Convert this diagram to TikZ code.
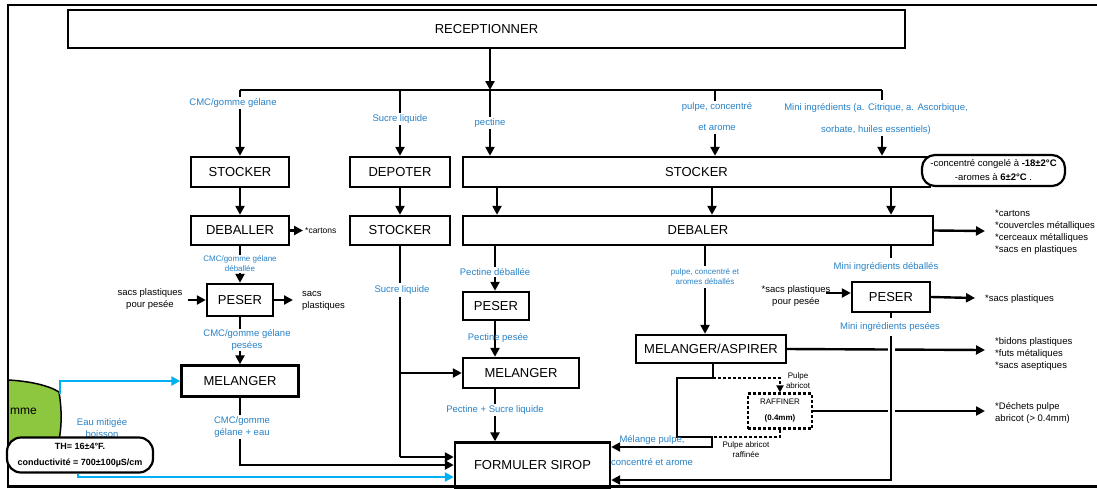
\documentclass[tikz,border=0pt]{standalone}
\usepackage{fontspec}
\setmainfont{Liberation Sans}
\usetikzlibrary{arrows.meta}
\definecolor{lblue}{RGB}{40,130,200}
\definecolor{cyanl}{RGB}{0,176,240}
\definecolor{greenf}{RGB}{141,198,63}
\tikzset{
 ln/.style={line width=2.4pt},
 arr/.style={line width=2.4pt,-{Triangle[length=9pt,width=9pt]}},
 barr/.style={line width=2.4pt,draw=cyanl,-{Triangle[length=9pt,width=9pt]}},
 dsh/.style={line width=2.2pt,dash pattern=on 3pt off 2pt},
 box/.style={draw,line width=2.4pt,fill=white,inner sep=0,font=\fontsize{13}{15}\selectfont},
 lbl/.style={text=lblue,inner sep=0,align=center,font=\fontsize{9.5}{12}\selectfont},
 slbl/.style={text=lblue,inner sep=0,align=center,font=\fontsize{8}{10}\selectfont},
 txt/.style={inner sep=0,align=left,font=\fontsize{9.5}{12}\selectfont},
 stxt/.style={inner sep=0,align=center,font=\fontsize{8}{10}\selectfont},
 notebox/.style={draw,line width=2.2pt,fill=white,rounded corners=13pt,inner sep=0,align=center},
}
\begin{document}
\begin{tikzpicture}[x=1pt,y=-1pt]
\useasboundingbox (0,0) rectangle (1097,488);
\clip (0,0) rectangle (1097,488);
\fill[white] (0,0) rectangle (1097,488);

% green shape (partly hidden)
\fill[greenf] (8,380) .. controls (28,381) and (48,385) .. (59,392) .. controls (62,410) and (62,428) .. (58,445) -- (8,445) -- cycle;
\draw[line width=1.5pt] (8,380) .. controls (28,381) and (48,385) .. (59,392) .. controls (62,410) and (62,428) .. (58,445);
\node[font=\fontsize{12}{14}\selectfont,anchor=west,inner sep=0] (gm) at (10,411) {mme};

% frame
\draw[line width=2pt] (8,4.5) -- (1097,4.5);
\draw[line width=1.5pt] (8,4) -- (8,488);

% boxes
\node[box,minimum width=837,minimum height=38] (rec) at (486.5,29) {RECEPTIONNER};
\node[box,minimum width=98,minimum height=30] (stc) at (240,172) {STOCKER};
\node[box,minimum width=100,minimum height=30] (dep) at (400,172) {DEPOTER};
\node[box,minimum width=467,minimum height=30] (stb) at (696.5,172) {STOCKER};
\node[box,minimum width=98,minimum height=29] (deb1) at (240,230.5) {DEBALLER};
\node[box,minimum width=100,minimum height=29] (sts) at (400,230.5) {STOCKER};
\node[box,minimum width=470,minimum height=29] (deb2) at (698,230.5) {DEBALER};
\node[box,minimum width=66,minimum height=32] (pes1) at (240,300) {PESER};
\node[box,minimum width=66,minimum height=28] (pes2) at (496,306) {PESER};
\node[box,minimum width=78,minimum height=30] (pes3) at (891,297) {PESER};
\node[box,minimum width=117,minimum height=31] (mel1) at (240,381) {MELANGER};
\node[box,minimum width=116,minimum height=30] (mel2) at (521,373) {MELANGER};
\node[box,minimum width=150,minimum height=28] (mas) at (711,349) {MELANGER/ASPIRER};
\node[box,dsh,minimum width=64,minimum height=35,align=center,font=\fontsize{8}{16}\selectfont] (raf) at (780,411) {RAFFINER\\\textbf{(0.4mm)}};
\node[box,minimum width=155,minimum height=45] (form) at (532.5,465) {FORMULER SIROP};

% distribution from RECEPTIONNER
\coordinate (dl) at (240,90);
\coordinate (dr) at (882,90);
\draw[arr] (490,0 |- rec.south) -- (490,90);
\draw[ln] (dl) -- (dr);
\draw[arr] (dl) -- (stc.north);
\node[lbl,fill=white,inner sep=1.5pt] (lcmc) at (233,103) {CMC/gomme gélane};
\draw[arr] (400,90) -- (dep.north);
\node[lbl,fill=white,inner sep=2pt] (lsuc) at (400,119) {Sucre liquide};
\draw[arr] (490,90) -- (490,0 |- stb.north);
\node[lbl,fill=white,inner sep=2pt] (lpec) at (490,123) {pectine};
\draw[ln] (715,90) -- (715,101);
\node[lbl] (lpul1) at (717,107) {pulpe, concentré};
\node[lbl] (lpul2) at (717,127) {et arome};
\draw[arr] (715,134) -- (715,0 |- stb.north);
\draw[ln] (882,90) -- (882,100);
\node[lbl] (lmin1) at (876,108) {Mini ingrédients (a. Citrique, a. Ascorbique,};
\node[lbl] (lmin2) at (876,130) {sorbate, huiles essentiels)};
\draw[arr] (882,136) -- (882,0 |- stb.north);
\node[notebox,minimum width=143,minimum height=31,font=\fontsize{9.5}{14}\selectfont] (note) at (993.5,170.5) {-concentré congelé à \textbf{-18±2°C}\\-aromes à \textbf{6±2°C} .};

% row 2 -> row 3
\draw[arr] (stc) -- (deb1);
\draw[arr] (dep) -- (sts);
\draw[arr] (497,0 |- stb.south) -- (497,0 |- deb2.north);
\draw[arr] (712,0 |- stb.south) -- (712,0 |- deb2.north);
\draw[arr] (891,0 |- stb.south) -- (891,0 |- deb2.north);

\draw[arr] (deb1.east) -- (303,230.5);
\node[txt,anchor=west,font=\fontsize{8.5}{10}\selectfont] (cart) at (305,231) {*cartons};
\draw[arr] (deb2.east) -- (985,231);
\node[txt,anchor=west] (t1) at (995,232) {*cartons\\*couvercles métalliques\\*cerceaux métalliques\\*sacs en plastiques};

% CMC chain
\draw[arr] (deb1) -- (pes1);
\node[slbl,fill=white,inner sep=1pt] (lcmc2) at (240,264) {CMC/gomme gélane\\déballée};
\node[txt,align=center] (sp1) at (150,299) {sacs plastiques\\pour pesée};
\draw[arr] (188,300) -- (pes1.west);
\draw[arr] (pes1.east) -- (293,300);
\node[txt,anchor=west] (sp2) at (302,301) {sacs\\plastiques};
\draw[arr] (pes1) -- (mel1);
\node[lbl,fill=white,inner sep=1pt] (lcmc3) at (247,340) {CMC/gomme gélane\\pesées};
\draw[arr] (mel1.south) -- (240,465) -- (form.west |- 240,465);
\node[lbl,fill=white,inner sep=1.5pt] (lcmc4) at (242,427) {CMC/gomme\\gélane + eau};

% water
\draw[barr] (60,394) -- (60,381) -- (mel1.west);
\node[lbl] (eau) at (102,428) {Eau mitigée\\boisson};
\node[notebox,rounded corners=14pt,minimum width=146,minimum height=35,font=\bfseries\fontsize{9}{16}\selectfont] (th) at (80,455) {TH= 16±4°F.\\conductivité = 700±100µS/cm};
\draw[barr] (78,0 |- th.south) -- (78,477) -- (form.west |- 78,477);

% sucre chain
\draw[ln] (sts.south) -- (400,457);
\draw[arr] (400,457) -- (form.west |- 400,457);
\draw[arr] (400,373) -- (mel2.west);
\node[lbl,fill=white,inner sep=3pt] (lsuc2) at (402,290) {Sucre liquide};

% pectine chain
\draw[arr] (495,0 |- deb2.south) -- (495,0 |- pes2.north);
\node[lbl,fill=white,inner sep=1.5pt] (lpec2) at (495,272) {Pectine déballée};
\draw[arr] (495,0 |- pes2.south) -- (495,0 |- mel2.north);
\node[lbl] (lpec3) at (498,338) {Pectine pesée};
\draw[arr] (495,0 |- mel2.south) -- (495,0 |- form.north);
\node[lbl,fill=white,inner sep=2pt] (lpec4) at (495,410) {Pectine + Sucre liquide};

% pulpe chain
\draw[arr] (705,0 |- deb2.south) -- (705,0 |- mas.north);
\node[slbl,fill=white,inner sep=3pt] (lpul3) at (705,277) {pulpe, concentré et\\aromes déballés};
\draw[arr] (mas.east) -- (985,350);
\node[txt,anchor=west] (t2) at (995,354) {*bidons plastiques\\*futs métaliques\\*sacs aseptiques};
\draw[arr] (713,0 |- mas.south) -- (713,378) -- (677,378) -- (677,437) -- (712,437) -- (712,447) -- (form.east |- 712,447);
\node[lbl] (lmel1) at (652,440) {Mélange pulpe,};
\node[lbl] (lmel2) at (652,462) {concentré et arome};
\draw[dsh,-{Triangle[length=7pt,width=7pt]}] (713,378) -- (780,378) -- (raf.north);
\node[stxt] (lpa) at (798,381) {Pulpe\\abricot};
\draw[arr] (raf.east) -- (985,411);
\node[txt,anchor=west] (t3) at (995,413) {*Déchets pulpe\\abricot (> 0.4mm)};
\draw[dsh] (raf.south) -- (780,437) -- (712,437);
\node[stxt] (lpar) at (746,450) {Pulpe abricot\\raffinée};

% mini chain
\draw[ln] (891,0 |- deb2.south) -- (891,258);
\node[lbl] (lmin3) at (886,267) {Mini ingrédients déballés};
\node[txt,align=center] (sp3) at (796,296) {*sacs plastiques\\pour pesée};
\draw[arr] (826,293) -- (pes3.west |- 826,293);
\draw[arr] (pes3.east) -- (975,298);
\node[txt,anchor=west] (sp4) at (985,299) {*sacs plastiques};
\draw[ln] (pes3.south) -- (891,318);
\node[lbl] (lmin4) at (890,327) {Mini ingrédients pesées};
\draw[white,line width=7pt] (891,340) -- (891,470);
\draw[arr] (891,336) -- (891,480) -- (form.east |- 891,480);

% bottom frame
\draw[line width=3pt] (8,486.5) -- (1097,486.5);
\end{tikzpicture}
\end{document}
